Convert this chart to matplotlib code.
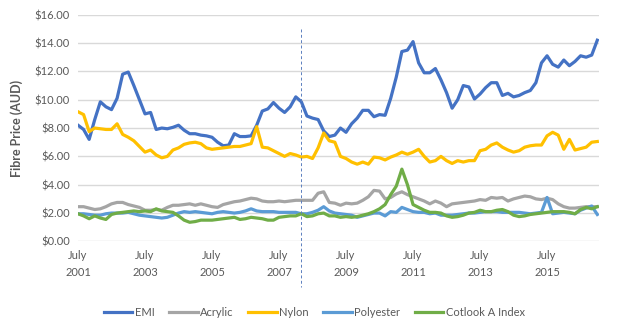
import numpy as np
import matplotlib
matplotlib.use("Agg")
import matplotlib.pyplot as plt

plt.rcParams['font.family'] = ['Lato', 'DejaVu Sans']

# bi-monthly samples starting July 2001
emi = [8.2, 7.9, 7.2, 8.6, 9.85, 9.5, 9.3, 10.1, 11.8, 11.95,
       11.0, 10.0, 9.0, 9.1, 7.9, 8.0, 7.95, 8.05, 8.2, 7.85,
       7.6, 7.6, 7.5, 7.45, 7.35, 7.0, 6.75, 6.8, 7.6, 7.4,
       7.4, 7.45, 8.2, 9.2, 9.35, 9.8, 9.4, 9.1, 9.5, 10.2,
       9.85, 8.85, 8.7, 8.6, 7.8, 7.4, 7.5, 8.0, 7.7, 8.3,
       8.7, 9.25, 9.25, 8.8, 8.95, 8.9, 10.1, 11.6, 13.4, 13.5,
       14.1, 12.6, 11.9, 11.9, 12.2, 11.4, 10.5, 9.4, 10.0, 11.0,
       10.9, 10.05, 10.4, 10.85, 11.2, 11.2, 10.3, 10.45, 10.2, 10.3,
       10.5, 10.65, 11.2, 12.6, 13.1, 12.5, 12.3, 12.8, 12.4, 12.7,
       13.1, 13.0, 13.15, 14.2]
acrylic = [2.45, 2.45, 2.35, 2.25, 2.3, 2.45, 2.65, 2.75, 2.75, 2.6,
           2.5, 2.4, 2.2, 2.2, 2.25, 2.2, 2.4, 2.55, 2.55, 2.6,
           2.65, 2.55, 2.65, 2.55, 2.45, 2.4, 2.6, 2.7, 2.8, 2.85,
           2.95, 3.05, 3.0, 2.85, 2.8, 2.8, 2.85, 2.8, 2.85, 2.9,
           2.9, 2.9, 2.9, 3.4, 3.5, 2.75, 2.7, 2.55, 2.7, 2.65,
           2.7, 2.9, 3.15, 3.6, 3.55, 3.0, 3.1, 3.35, 3.5, 3.3,
           3.15, 3.0, 2.85, 2.65, 2.85, 2.7, 2.45, 2.65, 2.7, 2.75,
           2.8, 2.85, 2.95, 2.9, 3.1, 3.05, 3.1, 2.85, 3.0, 3.1,
           3.2, 3.15, 3.0, 2.95, 3.05, 2.95, 2.65, 2.45, 2.35, 2.35,
           2.4, 2.45, 2.45, 2.45]
nylon = [9.15, 8.95, 7.75, 8.0, 7.95, 7.9, 7.9, 8.3, 7.55, 7.35,
         7.1, 6.7, 6.3, 6.45, 6.1, 5.9, 6.0, 6.45, 6.6, 6.85,
         6.95, 7.0, 6.9, 6.6, 6.5, 6.55, 6.6, 6.65, 6.7, 6.7,
         6.8, 6.9, 8.1, 6.65, 6.6, 6.4, 6.2, 6.0, 6.2, 6.1,
         5.95, 6.0, 5.85, 6.6, 7.65, 7.1, 7.0, 6.0, 5.85, 5.6,
         5.45, 5.6, 5.45, 5.95, 5.9, 5.75, 5.95, 6.1, 6.3, 6.15,
         6.3, 6.5, 6.0, 5.6, 5.7, 6.0, 5.7, 5.5, 5.7, 5.6,
         5.7, 5.7, 6.4, 6.5, 6.8, 6.95, 6.65, 6.45, 6.3, 6.4,
         6.65, 6.75, 6.8, 6.8, 7.45, 7.7, 7.5, 6.5, 7.2, 6.45,
         6.55, 6.65, 7.0, 7.05]
polyester = [1.95, 1.95, 1.9, 1.85, 1.85, 1.95, 2.0, 2.0, 2.0, 2.05,
             1.95, 1.85, 1.8, 1.75, 1.7, 1.65, 1.7, 1.85, 2.0, 2.1,
             2.05, 2.1, 2.05, 2.0, 1.95, 2.05, 2.1, 2.05, 2.0, 2.05,
             2.15, 2.3, 2.15, 2.1, 2.1, 2.1, 2.05, 2.05, 2.05, 2.05,
             1.95, 1.95, 2.05, 2.2, 2.45, 2.15, 2.0, 1.95, 1.9, 1.85,
             1.7, 1.8, 1.9, 2.0, 2.0, 1.8, 2.1, 2.05, 2.4, 2.25,
             2.1, 2.05, 2.05, 1.95, 2.0, 1.85, 1.85, 1.85, 1.9, 1.95,
             2.0, 2.0, 2.05, 2.1, 2.1, 2.1, 2.05, 2.05, 2.05, 2.05,
             2.0, 1.95, 2.0, 2.05, 3.1, 1.95, 2.0, 2.05, 2.0, 1.95,
             2.2, 2.35, 2.5, 1.9]
cotlook = [1.95, 1.8, 1.6, 1.8, 1.65, 1.55, 1.9, 2.0, 2.05, 2.1,
           2.15, 2.1, 2.15, 2.1, 2.3, 2.15, 2.1, 2.05, 1.8, 1.5,
           1.35, 1.4, 1.5, 1.5, 1.5, 1.55, 1.6, 1.65, 1.7, 1.55,
           1.6, 1.7, 1.65, 1.6, 1.5, 1.5, 1.7, 1.75, 1.8, 1.8,
           1.95, 1.75, 1.8, 1.95, 2.0, 1.8, 1.8, 1.7, 1.75, 1.7,
           1.75, 1.85, 1.95, 2.1, 2.3, 2.6, 3.3, 3.9, 5.1, 4.0,
           2.6, 2.4, 2.2, 2.05, 2.05, 2.0, 1.8, 1.7, 1.75, 1.85,
           2.0, 2.05, 2.2, 2.1, 2.1, 2.2, 2.25, 2.1, 1.85, 1.75,
           1.8, 1.9, 1.95, 2.0, 2.05, 2.1, 2.1, 2.1, 2.05, 1.95,
           2.25, 2.4, 2.3, 2.45]

series_names = ['EMI', 'Acrylic', 'Nylon', 'Polyester', 'Cotlook A Index']
series_colors = ['#4472C4', '#A5A5A5', '#FFC000', '#5B9BD5', '#70AD47']
tick_labels = ['July\n2001', 'July\n2003', 'July\n2005', 'July\n2007',
               'July\n2009', 'July\n2011', 'July\n2013', 'July\n2015']
y_ticks = [0, 2, 4, 6, 8, 10, 12, 14, 16]
marker_month = 80  # March 2008

months = np.arange(0, 2 * len(emi), 2)

fig = plt.figure(figsize=(6.22, 3.31), dpi=100)
ax = fig.add_axes([0.1254, 0.2707, 0.8376, 0.6849])

for vals, name, col in zip([emi, acrylic, nylon, polyester, cotlook], series_names, series_colors):
    ax.plot(months, vals, color=col, lw=2.3, label=name, solid_joinstyle='round')

ax.set_ylim(0, 16)
ax.set_xlim(0, 186.6)
ax.set_yticks(y_ticks)
ax.set_yticklabels(['${:.2f}'.format(v) for v in y_ticks])
ax.set_xticks(np.arange(0, 24 * len(tick_labels), 24))
ax.set_xticklabels(tick_labels, linespacing=1.7)
ax.grid(axis='y', color='#D9D9D9', lw=1.0)
ax.set_axisbelow(True)
for s in ax.spines.values():
    s.set_visible(False)
ax.tick_params(axis='both', length=0, colors='#595959', labelsize=8)
ax.tick_params(axis='x', pad=6)
ax.tick_params(axis='y', pad=6)

ax.plot([marker_month, marker_month], [0.937, -0.20], color='#5B7FBF', lw=0.7,
        ls=(0, (3, 2.5)), transform=ax.get_xaxis_transform(), clip_on=False)

ax.set_ylabel('Fibre Price (AUD)', color='#595959', fontsize=9, fontweight='bold', labelpad=8)

fig.legend(loc='lower center', bbox_to_anchor=(0.505, 0.01), ncol=5, frameon=False,
           fontsize=8, labelcolor='#595959', handlelength=2.6, columnspacing=1.3,
           handletextpad=0.2)

fig.savefig('out.png', dpi=100)
